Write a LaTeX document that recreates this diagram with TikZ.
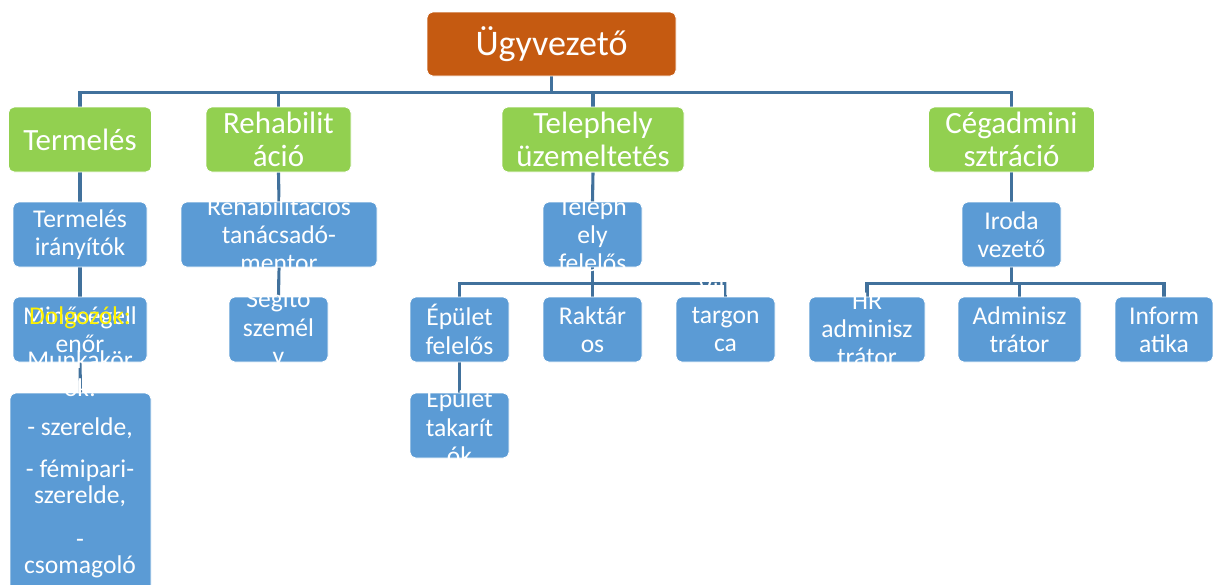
\documentclass[tikz,border=0pt]{standalone}
\usepackage{fontspec}
\setmainfont{Carlito}
\usetikzlibrary{backgrounds}
\definecolor{boss}{HTML}{C55A11}
\definecolor{unit}{HTML}{92D050}
\definecolor{post}{HTML}{5B9BD5}
\definecolor{wire}{HTML}{41719C}
\tikzset{
  wh/.style 2 args={minimum width=#1*0.025cm,minimum height=#2*0.025cm},
  box/.style={rounded corners=4pt,draw=white,line width=0.6pt,inner sep=0pt},
  bossbox/.style={box,fill=boss},
  unitbox/.style={box,fill=unit},
  postbox/.style={box,fill=post},
  conn/.style={wire,line width=2.2pt},
  txt/.style={text=white,align=center,inner sep=0pt,font=\fontsize{18.2}{20.1}\selectfont},
  unittxt/.style={txt,font=\fontsize{22}{23.5}\selectfont},
}
\begin{document}
\begin{tikzpicture}[x=0.025cm,y=-0.025cm]
  \useasboundingbox (0,0) rectangle (1213,585);
  % boxes
  \node[bossbox,wh={249}{64}] (ugy) at (551.5,44) {};
  \node[unitbox,wh={143}{65}] (term) at (80,139.5) {};
  \node[unitbox,wh={145}{65}] (rehab) at (278.5,139.5) {};
  \node[unitbox,wh={182}{65}] (telep) at (593,139.5) {};
  \node[unitbox,wh={166}{65}] (ceg) at (1011.5,139.5) {};
  \node[postbox,wh={134}{65}] (tiranyit) at (80,234.5) {};
  \node[postbox,wh={196}{65}] (rtan) at (279,234.5) {};
  \node[postbox,wh={99}{65}] (tfel) at (592.5,234.5) {};
  \node[postbox,wh={99}{65}] (iroda) at (1011.5,234.5) {};
  \node[postbox,wh={134}{65}] (mino) at (80,329.5) {};
  \node[postbox,wh={99}{65}] (segito) at (278.5,329.5) {};
  \node[postbox,wh={99}{65}] (epfel) at (459.5,329.5) {};
  \node[postbox,wh={99}{65}] (raktar) at (592.5,329.5) {};
  \node[postbox,wh={99}{65}] (targ) at (725.5,329.5) {};
  \node[postbox,wh={116}{65}] (hr) at (867,329.5) {};
  \node[postbox,wh={123}{65}] (admin) at (1019.5,329.5) {};
  \node[postbox,wh={98}{65}] (info) at (1164,329.5) {};
  \node[postbox,wh={99}{65}] (eptak) at (459.5,425.5) {};
  \node[postbox,wh={141}{210}] (dolg) at (80.5,498) {};
  % connectors
  \begin{scope}[on background layer]
    \draw[conn] (ugy.south) -- ++(0,16) -| (term.north);
    \draw[conn] (ugy.south) -- ++(0,16) -| (rehab.north);
    \draw[conn] (ugy.south) -- ++(0,16) -| (telep.north);
    \draw[conn] (ugy.south) -- ++(0,16) -| (ceg.north);
    \draw[conn] (term.south) -- (tiranyit.north);
    \draw[conn] (tiranyit.south) -- (mino.north);
    \draw[conn] (mino.south) -- (dolg.north);
    \draw[conn] (rehab.south) -- (rtan.north);
    \draw[conn] (rtan.south) -- (segito.north);
    \draw[conn] (telep.south) -- (tfel.north);
    \draw[conn] (tfel.south) -- ++(0,16) -| (epfel.north);
    \draw[conn] (tfel.south) -- (raktar.north);
    \draw[conn] (tfel.south) -- ++(0,16) -| (targ.north);
    \draw[conn] (epfel.south) -- (eptak.north);
    \draw[conn] (ceg.south) -- (iroda.north);
    \draw[conn] (iroda.south) -- ++(0,16) -| (hr.north);
    \draw[conn] (iroda.south) -- ++(0,16) -| (admin.north);
    \draw[conn] (iroda.south) -- ++(0,16) -| (info.north);
  \end{scope}
  % texts
  \node[txt,font=\fontsize{25.6}{28}\selectfont] (ugy-t) at (ugy) {Ügyvezető};
  \node[unittxt] (term-t) at (term) {Termelés};
  \node[unittxt] (rehab-t) at (rehab) {Rehabilit\\áció};
  \node[unittxt] (telep-t) at (telep) {Telephely\\üzemeltetés};
  \node[unittxt] (ceg-t) at (ceg) {Cégadmini\\sztráció};
  \node[txt] (tiranyit-t) at (tiranyit) {Termelés\\irányítók};
  \node[txt] (rtan-t) at (rtan) {Rehabilitációs\\tanácsadó-\\mentor};
  \node[txt] (tfel-t) at (tfel) {Teleph\\ely\\felelős};
  \node[txt] (iroda-t) at (iroda) {Iroda\\vezető};
  \node[txt] (mino-t) at (mino) {Minőségell\\enőr};
  \node[txt] (segito-t) at (segito) {Segítő\\személ\\y};
  \node[txt] (epfel-t) at (epfel) {Épület\\felelős};
  \node[txt] (raktar-t) at (raktar) {Raktár\\os};
  \node[txt] (targ-t) at ([yshift=15*0.025cm]targ) {Villás\\targon\\ca};
  \node[txt] (hr-t) at (hr) {HR\\adminisz\\trátor};
  \node[txt] (admin-t) at (admin) {Adminisz\\trátor};
  \node[txt] (info-t) at (info) {Inform\\atika};
  \node[txt] (eptak-t) at (eptak) {Épület\\takarít\\ók};
  \node[txt,anchor=base,text=yellow] (dolg-0) at (80,324) {Dolgozók:};
  \foreach \ty/\tl in {368/Munkakör,396/ök:,435/{- szerelde,},477/{- fémipari-},503/{szerelde,},547/-,573/csomagoló}
    \node[txt,anchor=base] (dolg-\ty) at (80,\ty) {\tl};
\end{tikzpicture}
\end{document}
